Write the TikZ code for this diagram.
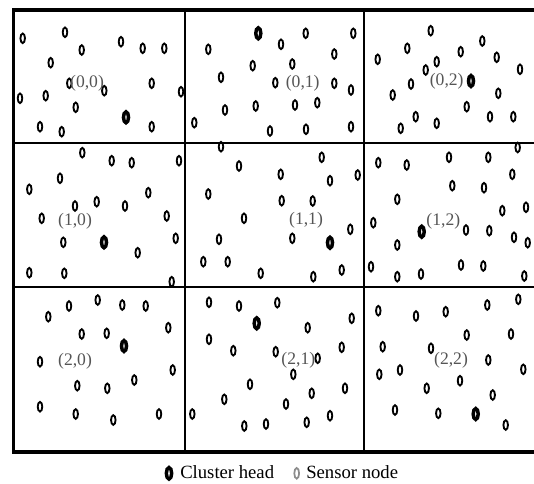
\documentclass[tikz,border=0pt]{standalone}
\usepackage{fontspec}
\setmainfont{Liberation Serif}
\definecolor{lblgray}{HTML}{555555}
\definecolor{symgray}{HTML}{8C8C8C}
\tikzset{
  sensor/.style={draw=black, line width=1.4pt},
  chead/.style={draw=black, line width=2.6pt},
  frameline/.style={line width=2.3pt},
  gridline/.style={line width=1.5pt},
  celllabel/.style={text=lblgray, font=\fontsize{13.2}{15}\selectfont, inner sep=0pt},
  legendtext/.style={font=\fontsize{14}{16}\selectfont, inner sep=0pt, anchor=west}
}
\begin{document}
\begin{tikzpicture}[x=0.75pt, y=-0.75pt]
\clip (0,0) rectangle (534,483);
\fill[white] (0,0) rectangle (534,483);
% grid
\draw[gridline] (185,10) -- (185,452);
\draw[gridline] (364,10) -- (364,452);
\draw[gridline] (13,143) -- (540,143);
\draw[gridline] (13,287) -- (540,287);
\draw[frameline] (540,10) -- (13.5,10) -- (13.5,452) -- (540,452);
% sensor nodes
\foreach \x/\y in {
 22.7/38.3,65/32.3,81.7/50,121/41.7,142.7/48.3,164.3/48.3,50.7/62.7,69.3/83.3,104.3/90.7,151.7/83.3,20/98.3,45.7/95.7,75.7/107.3,181/91.7,40/126.7,61.7/131.7,151.7/126.7,
 305.7/33.3,353.3/33.3,208.3/49.3,281/44.3,334.3/54,252.7/65.7,292.3/64,221/77.3,275.3/82.7,334.3/83.3,351/90,225/110,255.7/106,295/105,317.3/102.7,194.3/122.7,270/131,306/129.3,351/126.7,
 430.7/30.7,407.3/48.3,377.7/59.3,460.7/51.7,482.3/41,496.7/57.3,520/69.3,436.7/61.7,425.7/70,411/84,392.7/95,498.3/93.3,466.7/106.7,415.7/116.7,436.7/123.3,400.7/128.3,490/116.7,513.3/116.7,517.7/147.5,
 82.3/152.7,111.7/160.7,131.7/162.7,179/160.7,60/178.3,29.3/189.3,148.3/192.7,75/206,96.7/201.7,125/206,41.7/218.3,166.7/216,63.3/242.3,175.7/238.3,137.7/252.7,29.3/272.7,64.3/273.3,171.7/281.7,
 221/146.7,321.7/157.3,239/166,280.7/174.3,330/180.7,357.7/175,208.3/194,281.7/200.7,312.7/201,244/218.3,350.3/229.3,219/239.3,292.3/238.3,203.3/261.7,227.7/261.7,260.7/273.3,313.3/276.7,341.7/270,
 378.3/162.7,406.7/165,449/157.3,488.3/157.3,512.3/174.3,452.3/185.7,484/187.7,397.3/199.3,502.3/210.7,526/207.3,373.3/222.7,466/230,489.3/230.7,514/237.3,527.7/242.7,397.3/245,371/266.7,397.3/276.7,421/274,461/265,483.3/266,524.3/276,
 48.3/316.7,69/306,97.7/300,122.3/305,145.7/306,168.3/327.7,81.7/334,106.7/333.3,40/361.7,172.7/370,134.3/380,77.3/385.7,107.3/388.3,40/406.7,75.7/414,113.3/420,159/414,192.3/414,
 209/302.3,239/306,277.3/302.7,307.7/327.7,351.7/318.3,209/339.3,233.3/350.7,275.7/351.7,317.7/358.3,341.7/347.3,293.3/374.3,250/384.3,311.7/393.3,345/388.3,224.3/399.3,286/404,244.3/426,266/424,306.7/422.3,330/415.7,
 378.3/310.7,416/316,445.7/311.7,487.3/305,518.3/299.3,466.7/335,511/334,382.7/346.7,431/348.3,488.3/360,523.3/369.3,379.3/374.3,400/370,460/380.7,426.7/388.3,492.7/395,395/410,438.3/413.3,505.7/425}
 \draw[sensor] (\x,\y) ellipse [x radius=1.7pt, y radius=3.6pt];
% cluster heads
\foreach \x/\y in {126/117.3,258.3/33.3,471/81,104/242.3,330/242.7,421.7/231.7,124/346,256.7/323.3,475.7/414}
 \draw[chead] (\x,\y) ellipse [x radius=1.9pt, y radius=4.1pt];
% cell labels
\node[celllabel] (c00) at (87,83) {(0,0)};
\node[celllabel] (c01) at (302.7,83.3) {(0,1)};
\node[celllabel] (c02) at (446.7,81.7) {(0,2)};
\node[celllabel] (c10) at (75,221) {(1,0)};
\node[celllabel] (c11) at (306,220.7) {(1,1)};
\node[celllabel] (c12) at (443.3,221.7) {(1,2)};
\node[celllabel] (c20) at (75,361) {(2,0)};
\node[celllabel] (c21) at (298.3,360.7) {(2,1)};
\node[celllabel] (c22) at (451,360.7) {(2,2)};
% legend
\draw[chead] (169,473.3) ellipse [x radius=2pt, y radius=4.3pt];
\node[legendtext] (lch) at (180,472) {Cluster head};
\draw[draw=symgray, line width=1.3pt] (296.7,473.3) ellipse [x radius=1.8pt, y radius=4pt];
\node[legendtext] (lsn) at (306,472) {Sensor node};
\end{tikzpicture}
\end{document}
